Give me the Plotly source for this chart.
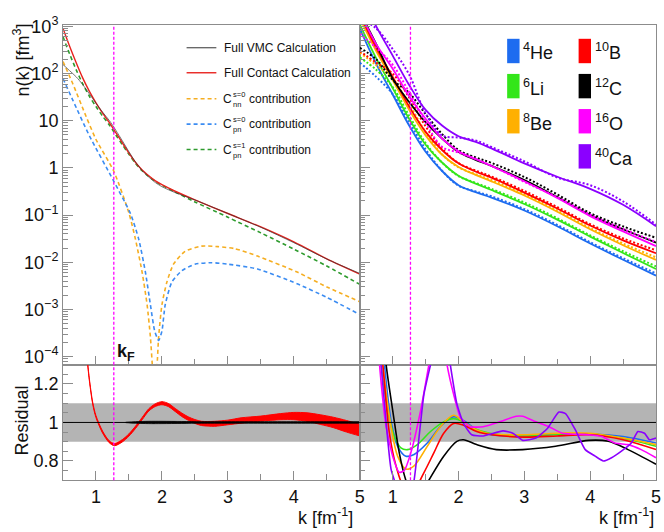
import plotly.graph_objects as go

W, H = 664, 532
FONT = "Liberation Sans, Arial, Helvetica, sans-serif"
FRAME = "#8c8c8c"

# ---------------- data ----------------
KF = 1.27

# left top panel
k_left = [0.5, 0.6, 0.7, 0.8, 0.9, 1.0, 1.1, 1.2, 1.3, 1.4, 1.5, 1.6, 1.7, 1.8, 1.9, 2.0, 2.2, 2.5, 3.0, 3.5, 4.0, 4.5, 5.0]
contact_left = [900, 380, 170, 80, 42, 24, 14.5, 9.2, 5.6, 3.4, 2.05, 1.3, 0.9, 0.68, 0.53, 0.44, 0.32, 0.21, 0.108, 0.056, 0.027, 0.0118, 0.0056]
vmc_left = [155, 115, 85, 58, 37, 23.5, 15.2, 10.2, 6.3, 3.75, 2.2, 1.33, 0.88, 0.64, 0.49, 0.40, 0.30, 0.209, 0.108, 0.055, 0.026, 0.0117, 0.0058]
pn1_left = [600, 260, 120, 60, 33, 20, 12.5, 8.2, 5.0, 3.1, 1.95, 1.25, 0.87, 0.66, 0.52, 0.43, 0.31, 0.19, 0.09, 0.042, 0.019, 0.0083, 0.0034]

k_nn0 = [0.5, 0.65, 0.85, 1.0, 1.27, 1.5, 1.6, 1.7, 1.775, 1.825, 1.86, 1.89, 1.925, 1.95, 2.0, 2.075, 2.175, 2.35, 2.6, 2.85, 3.1, 3.45, 4.05, 4.5, 5.0]
nn0_left = [180, 60, 12.3, 4.0, 0.85, 0.11, 0.030, 0.0061, 0.00126, 2.6e-4, 5e-5, 1.5e-5, 6e-5, 2.6e-4, 1.26e-3, 3.8e-3, 9.1e-3, 0.017, 0.022, 0.0214, 0.0195, 0.0135, 0.0062, 0.003, 0.00146]

k_pn0 = [0.5, 0.65, 0.9, 1.27, 1.525, 1.65, 1.75, 1.825, 1.89, 1.95, 2.0, 2.05, 2.15, 2.3, 2.5, 2.75, 3.0, 3.45, 4.05, 4.5, 5.0]
pn0_left = [78, 27, 4.8, 0.52, 0.106, 0.030, 0.0061, 0.00126, 3.5e-4, 2.2e-4, 3.5e-4, 1.26e-3, 3.8e-3, 6.6e-3, 9.1e-3, 0.0098, 0.0091, 0.0072, 0.0035, 0.0018, 7.8e-4]

# left residual panel
k_res_left = [0.85, 0.875, 0.9, 0.95, 1.0, 1.1, 1.2, 1.28, 1.4, 1.5, 1.6, 1.7, 1.8, 1.9, 2.0, 2.1, 2.2, 2.3, 2.4, 2.5, 2.6, 2.7, 2.8, 3.0, 3.2, 3.5, 3.8, 4.0, 4.2, 4.4, 4.6, 4.8, 5.0]
res_contact_upper = [1.405, 1.305, 1.225, 1.105, 1.035, 0.955, 0.905, 0.891, 0.911, 0.941, 0.981, 1.026, 1.071, 1.097, 1.108, 1.098, 1.073, 1.049, 1.029, 1.015, 1.006, 1.005, 1.006, 1.012, 1.024, 1.033, 1.046, 1.052, 1.05, 1.04, 1.027, 1.01, 0.99]
res_contact_lower = [1.395, 1.295, 1.215, 1.095, 1.025, 0.945, 0.895, 0.879, 0.899, 0.929, 0.969, 1.014, 1.059, 1.083, 1.092, 1.082, 1.057, 1.031, 1.011, 0.995, 0.984, 0.981, 0.98, 0.988, 0.996, 1.007, 1.014, 1.014, 1.006, 0.99, 0.973, 0.95, 0.93]
k_res_vmc = [1.45, 1.6, 1.8, 2.0, 2.3, 2.6, 3.0, 3.5, 4.0, 4.5, 5.0]
res_vmc_upper = [1.001, 1.004, 1.006, 1.006, 1.005, 1.004, 1.004, 1.004, 1.004, 1.004, 1.004]
res_vmc_lower = [0.999, 0.996, 0.994, 0.994, 0.995, 0.996, 0.996, 0.996, 0.996, 0.996, 0.996]

# right top panel (contact = solid, VMC = dotted)
k_right = [0.5, 0.75, 1.0, 1.25, 1.5, 1.75, 2.0, 2.25, 2.5, 3.0, 3.5, 4.0, 4.5, 5.0]
he4_contact = [900, 160, 36, 7.9, 2.2, 0.86, 0.43, 0.31, 0.235, 0.125, 0.058, 0.025, 0.0113, 0.0052]
he4_vmc = [170, 85, 36.7, 9.6, 2.49, 0.87, 0.42, 0.32, 0.251, 0.134, 0.062, 0.0266, 0.0122, 0.0058]
li6_contact = [1100, 210, 49, 11, 3.1, 1.3, 0.68, 0.47, 0.34, 0.172, 0.08, 0.035, 0.0157, 0.0072]
li6_vmc = [220, 120, 51.6, 12.8, 3.35, 1.3, 0.67, 0.487, 0.36, 0.185, 0.0855, 0.0372, 0.0171, 0.0082]
be8_contact = [1500, 300, 73, 17, 4.9, 1.9, 1.05, 0.72, 0.52, 0.26, 0.118, 0.05, 0.023, 0.0112]
be8_vmc = [280, 150, 77.7, 22.4, 5.7, 1.93, 1.03, 0.746, 0.553, 0.278, 0.125, 0.053, 0.025, 0.0127]
b10_contact = [1800, 350, 85, 20, 5.8, 2.4, 1.25, 0.85, 0.62, 0.3, 0.138, 0.06, 0.029, 0.0155]
b10_vmc = [300, 170, 100, 31, 7.6, 2.58, 1.26, 0.89, 0.66, 0.325, 0.148, 0.064, 0.032, 0.018]
c12_contact = [2000, 420, 78, 25, 9.3, 4.2, 2.17, 1.5, 1.1, 0.55, 0.24, 0.1, 0.05, 0.026]
c12_vmc = [350, 200, 73, 39, 13.8, 5.2, 2.4, 1.69, 1.28, 0.64, 0.274, 0.11, 0.0575, 0.033]
o16_contact = [2000, 420, 126, 33, 11, 4.2, 2.24, 1.55, 1.1, 0.52, 0.23, 0.095, 0.045, 0.022]
o16_vmc = [700, 350, 153, 40, 9.2, 2.8, 2.11, 1.58, 1.11, 0.505, 0.24, 0.102, 0.0507, 0.027]
ca40_contact = [5000, 1000, 240, 57, 17, 7.9, 4.7, 3.6, 2.6, 1.25, 0.65, 0.36, 0.165, 0.058]
ca40_vmc = [1500, 900, 329, 95, 14.2, 4.9, 4.4, 3.85, 2.77, 1.38, 0.625, 0.43, 0.194, 0.063]

# right residual panel
k_res_he4 = [0.75, 0.875, 0.975, 1.075, 1.2, 1.325, 1.525, 1.725, 1.925, 2.1, 2.275, 2.5, 3.0, 3.5, 4.0, 4.5, 5.0]
res_he4 = [1.8, 1.3, 1.01, 0.876, 0.825, 0.834, 0.893, 0.978, 1.03, 1.005, 0.961, 0.936, 0.93, 0.94, 0.94, 0.927, 0.893]
k_res_li6 = [0.72, 0.825, 0.925, 1.025, 1.125, 1.225, 1.375, 1.575, 1.775, 1.925, 2.075, 2.225, 2.475, 2.975, 3.475, 3.975, 4.475, 5.0]
res_li6 = [1.8, 1.3, 1.063, 0.927, 0.868, 0.859, 0.885, 0.953, 1.003, 1.02, 1.003, 0.97, 0.944, 0.93, 0.936, 0.941, 0.919, 0.876]
k_res_be8 = [0.72, 0.85, 0.975, 1.075, 1.2, 1.325, 1.525, 1.725, 1.925, 2.075, 2.275, 2.5, 3.0, 3.5, 4.0, 4.5, 5.0]
res_be8 = [1.8, 1.3, 0.978, 0.825, 0.758, 0.775, 0.876, 0.978, 1.037, 1.003, 0.961, 0.94, 0.936, 0.944, 0.944, 0.919, 0.885]
k_res_b10 = [0.7, 0.85, 0.95, 1.05, 1.175, 1.3, 1.475, 1.625, 1.775, 1.925, 2.075, 2.275, 2.5, 3.0, 3.5, 4.0, 4.5, 5.0]
res_b10 = [1.8, 1.3, 0.944, 0.775, 0.66, 0.64, 0.74, 0.842, 0.944, 0.995, 0.986, 0.953, 0.936, 0.924, 0.93, 0.936, 0.91, 0.859]
k_res_c12 = [0.75, 0.9, 1.0, 1.1, 1.2, 1.35, 1.55, 1.775, 1.975, 2.075, 2.275, 2.575, 2.975, 3.475, 3.975, 4.275, 4.575, 5.0]
res_c12 = [1.8, 1.3, 1.063, 0.842, 0.70, 0.58, 0.70, 0.825, 0.902, 0.91, 0.885, 0.859, 0.859, 0.876, 0.907, 0.902, 0.859, 0.783]
k_res_o16 = [0.7, 0.8, 0.9, 1.0, 1.1, 1.175, 1.275, 1.425, 1.55, 1.7, 1.825, 1.925, 2.025, 2.175, 2.375, 2.625, 2.875, 2.975, 3.175, 3.375, 3.575, 3.975, 4.175, 4.375, 4.575, 4.775, 5.0]
res_o16 = [1.8, 1.3, 0.978, 0.825, 0.741, 0.75, 0.842, 1.063, 1.3, 1.6, 1.3, 1.147, 1.029, 0.978, 0.978, 1.003, 1.032, 1.032, 1.003, 0.978, 0.944, 0.936, 0.927, 0.893, 0.885, 0.859, 0.817]
k_res_ca40 = [0.72, 0.825, 0.975, 1.025, 1.1, 1.25, 1.325, 1.475, 1.575, 1.75, 1.875, 1.975, 2.075, 2.2, 2.375, 2.675, 2.825, 2.975, 3.175, 3.35, 3.525, 3.625, 3.775, 3.925, 4.075, 4.2, 4.325, 4.475, 4.625, 4.725, 4.825, 4.9, 5.0]
res_ca40 = [1.8, 1.3, 0.758, 0.70, 0.6, 0.6, 0.70, 1.147, 1.3, 1.6, 1.3, 1.097, 0.995, 0.936, 0.93, 0.956, 0.944, 0.907, 0.919, 0.969, 1.054, 1.046, 0.961, 0.859, 0.825, 0.80, 0.817, 0.851, 0.893, 0.953, 0.944, 0.91, 0.919]

nuclei = ["<sup>4</sup>He", "<sup>6</sup>Li", "<sup>8</sup>Be", "<sup>10</sup>B", "<sup>12</sup>C", "<sup>16</sup>O", "<sup>40</sup>Ca"]
nuc_colors = ["#1e6cf0", "#33e61a", "#ffb000", "#ff0000", "#000000", "#ff00ff", "#8b00ff"]
nuc_contact = [he4_contact, li6_contact, be8_contact, b10_contact, c12_contact, o16_contact, ca40_contact]
nuc_vmc = [he4_vmc, li6_vmc, be8_vmc, b10_vmc, c12_vmc, o16_vmc, ca40_vmc]
nuc_res_k = [k_res_he4, k_res_li6, k_res_be8, k_res_b10, k_res_c12, k_res_o16, k_res_ca40]
nuc_res = [res_he4, res_li6, res_be8, res_b10, res_c12, res_o16, res_ca40]

legend_left = ["Full VMC Calculation", "Full Contact Calculation", "nn", "pn", "pn"]
legend_left_sup = [None, None, "s=0", "s=0", "s=1"]

y_tickvals = [1e-4, 1e-3, 1e-2, 1e-1, 1, 10, 1e2, 1e3]
y_ticktext = ["10<sup>\u22124</sup>", "10<sup>\u22123</sup>", "10<sup>\u22122</sup>", "10<sup>\u22121</sup>",
              "1", "10", "10<sup>2</sup>", "10<sup>3</sup>"]
y_minor = [m * d for d in [1e-5, 1e-4, 1e-3, 1e-2, 1e-1, 1, 10, 100] for m in range(2, 10)]
res_tickvals = [0.8, 1.0, 1.2]
res_ticktext = ["0.8", "1", "1.2"]
x_tickvals = [1, 2, 3, 4, 5]
x_ticktext = ["1", "2", "3", "4", "5"]

C_VMC = "#333333"
C_CONTACT = "#e8231f"
C_NN = "#f5ae22"
C_PN0 = "#3b8cf2"
C_PN1 = "#2e9b2e"
C_KF = "#ff00ff"

# ---------------- figure ----------------
def px(x):
    return x / W


def py(y):
    return 1 - y / H


fig = go.Figure()

# top-left
fig.add_trace(go.Scatter(x=k_left, y=pn1_left, mode="lines", xaxis="x", yaxis="y",
                         line=dict(color=C_PN1, width=1.6, dash="4px,3px", shape="spline", smoothing=0.8)))
fig.add_trace(go.Scatter(x=k_nn0, y=nn0_left, mode="lines", xaxis="x", yaxis="y",
                         line=dict(color=C_NN, width=1.6, dash="4px,3px", shape="spline", smoothing=0.6)))
fig.add_trace(go.Scatter(x=k_pn0, y=pn0_left, mode="lines", xaxis="x", yaxis="y",
                         line=dict(color=C_PN0, width=1.6, dash="4px,3px", shape="spline", smoothing=0.6)))
fig.add_trace(go.Scatter(x=k_left, y=contact_left, mode="lines", xaxis="x", yaxis="y",
                         line=dict(color=C_CONTACT, width=1.4, shape="spline", smoothing=0.8)))
fig.add_trace(go.Scatter(x=k_left, y=vmc_left, mode="lines", xaxis="x", yaxis="y",
                         line=dict(color=C_VMC, width=0.9, shape="spline", smoothing=0.8), opacity=0.75))

# top-right
for cont, vmc, col in zip(nuc_contact, nuc_vmc, nuc_colors):
    fig.add_trace(go.Scatter(x=k_right, y=vmc, mode="lines", xaxis="x2", yaxis="y2",
                             line=dict(color=col, width=2, dash="2px,2px", shape="spline", smoothing=1.0)))
    fig.add_trace(go.Scatter(x=k_right, y=cont, mode="lines", xaxis="x2", yaxis="y2",
                             line=dict(color=col, width=1.8, shape="spline", smoothing=1.0)))

# bottom-left residual bands
fig.add_trace(go.Scatter(x=k_res_left, y=res_contact_upper, mode="lines", xaxis="x3", yaxis="y3",
                         line=dict(color="#ff0000", width=1, shape="spline", smoothing=0.8)))
fig.add_trace(go.Scatter(x=k_res_left, y=res_contact_lower, mode="lines", xaxis="x3", yaxis="y3",
                         line=dict(color="#ff0000", width=1, shape="spline", smoothing=0.8),
                         fill="tonexty", fillcolor="#ff0000"))
fig.add_trace(go.Scatter(x=k_res_vmc, y=res_vmc_upper, mode="lines", xaxis="x3", yaxis="y3",
                         line=dict(color="#000000", width=0.8, shape="spline", smoothing=0.8)))
fig.add_trace(go.Scatter(x=k_res_vmc, y=res_vmc_lower, mode="lines", xaxis="x3", yaxis="y3",
                         line=dict(color="#000000", width=0.8, shape="spline", smoothing=0.8),
                         fill="tonexty", fillcolor="#000000"))

# bottom-right residuals
for kk, rr, col, name in zip(nuc_res_k, nuc_res, nuc_colors, nuclei):
    jagged = name in ("<sup>16</sup>O", "<sup>40</sup>Ca")
    fig.add_trace(go.Scatter(x=kk, y=rr, mode="lines", xaxis="x4", yaxis="y4",
                             line=dict(color=col, width=1.6, shape="spline",
                                       smoothing=0.5 if jagged else 0.9)))

for tr in fig.data:
    tr.showlegend = False
    tr.hoverinfo = "skip"

axis_common = dict(showline=True, mirror=True, linecolor=FRAME, linewidth=1, ticks="inside",
                   tickcolor=FRAME, zeroline=False, showgrid=False,
                   tickfont=dict(family=FONT, size=18, color="#111111"))

x_dom_l = [px(63.5), px(362.5)]
x_dom_r = [px(362.5), px(661)]
y_dom_t = [py(362.5), py(14.3)]
y_dom_b = [py(481), py(362.5)]

xcommon = dict(axis_common, range=[0.5, 5.0], tickvals=x_tickvals, ticktext=x_ticktext, ticklen=9,
               minor=dict(dtick=0.5, tick0=0.5, ticks="inside", ticklen=6, tickcolor=FRAME))

fig.update_layout(
    width=W, height=H,
    margin=dict(l=0, r=0, t=0, b=0),
    paper_bgcolor="white", plot_bgcolor="white",
    font=dict(family=FONT, size=18, color="#111111"),
    showlegend=False,
    xaxis=dict(xcommon, domain=x_dom_l, anchor="y", showticklabels=False),
    xaxis2=dict(xcommon, domain=x_dom_r, anchor="y2", showticklabels=False),
    xaxis3=dict(xcommon, domain=x_dom_l, anchor="y3", showticklabels=True),
    xaxis4=dict(xcommon, domain=x_dom_r, anchor="y4", showticklabels=True),
    yaxis=dict(axis_common, domain=y_dom_t, anchor="x", type="log", range=[-4.17, 3.03],
               tickvals=y_tickvals, ticktext=y_ticktext, ticklen=10,
               minor=dict(tickvals=y_minor, ticks="inside", ticklen=5, tickcolor=FRAME)),
    yaxis2=dict(axis_common, domain=y_dom_t, anchor="x2", type="log", range=[-4.17, 3.03],
                tickvals=y_tickvals, showticklabels=False, ticklen=10,
                minor=dict(tickvals=y_minor, ticks="inside", ticklen=5, tickcolor=FRAME)),
    yaxis3=dict(axis_common, domain=y_dom_b, anchor="x3", range=[0.7, 1.3],
                tickvals=res_tickvals, ticktext=res_ticktext, ticklen=10,
                minor=dict(dtick=0.05, tick0=0.7, ticks="inside", ticklen=5, tickcolor=FRAME)),
    yaxis4=dict(axis_common, domain=y_dom_b, anchor="x4", range=[0.7, 1.3],
                tickvals=res_tickvals, showticklabels=False, ticklen=10,
                minor=dict(dtick=0.05, tick0=0.7, ticks="inside", ticklen=5, tickcolor=FRAME)),
)

shapes = []
# grey +-10% band and unity line in residual panels
for xr, yr in (("x3", "y3"), ("x4", "y4")):
    shapes.append(dict(type="rect", xref=xr + " domain", yref=yr, x0=0, x1=1, y0=0.9, y1=1.1,
                       fillcolor="#b4b4b4", line=dict(width=0), layer="below"))
    shapes.append(dict(type="line", xref=xr + " domain", yref=yr, x0=0, x1=1, y0=1, y1=1,
                       line=dict(color="#000000", width=1), layer="above"))
# k_F lines
for xr, yr in (("x", "y"), ("x2", "y2"), ("x3", "y3"), ("x4", "y4")):
    shapes.append(dict(type="line", xref=xr, yref=yr + " domain", x0=KF, x1=KF, y0=0, y1=1,
                       line=dict(color=C_KF, width=1.3, dash="3px,2px"), layer="above"))

annotations = []
# left legend
leg_rows = [37.7, 63.3, 90, 116, 142]
leg_styles = [(C_VMC, "solid", 1), (C_CONTACT, "solid", 1.4), (C_NN, "4px,3px", 1.6),
              (C_PN0, "4px,3px", 1.6), (C_PN1, "4px,3px", 1.6)]
for row, (col, dash, wid), label, sup in zip(leg_rows, leg_styles, legend_left, legend_left_sup):
    shapes.append(dict(type="line", xref="paper", yref="paper", x0=px(188), x1=px(218),
                       y0=py(row), y1=py(row), line=dict(color=col, width=wid, dash=dash)))
    if sup is None:
        annotations.append(dict(text=label, x=px(224), y=py(row), xref="paper", yref="paper",
                                xanchor="left", yanchor="middle", showarrow=False,
                                font=dict(size=12, family=FONT, color="#111111")))
    else:
        annotations.append(dict(text="C", x=px(223.5), y=py(row), xref="paper", yref="paper",
                                xanchor="left", yanchor="middle", showarrow=False, borderpad=0,
                                font=dict(size=12, family=FONT, color="#111111")))
        annotations.append(dict(text=sup + "<br>" + label, x=px(233.5), y=py(row + 0.5),
                                xref="paper", yref="paper", align="left",
                                xanchor="left", yanchor="middle", showarrow=False, borderpad=0,
                                font=dict(size=7.5, family=FONT, color="#111111")))
        annotations.append(dict(text="contribution", x=px(250), y=py(row), xref="paper", yref="paper",
                                xanchor="left", yanchor="middle", showarrow=False, borderpad=0,
                                font=dict(size=12, family=FONT, color="#111111")))

# right legend
box_cols = [511, 511, 511, 583, 583, 583, 583]
box_rows = [41, 77, 113, 41, 77, 113, 149]
for bx, by, col, name in zip(box_cols, box_rows, nuc_colors, nuclei):
    shapes.append(dict(type="rect", xref="paper", yref="paper", x0=px(bx), x1=px(bx + 12.5),
                       y0=py(by + 12.5), y1=py(by - 12.5), fillcolor=col, line=dict(width=0)))
    annotations.append(dict(text=name, x=px(bx + 14), y=py(by + 1), xref="paper", yref="paper",
                            xanchor="left", yanchor="middle", showarrow=False,
                            font=dict(size=18, family=FONT, color="#111111")))

# axis titles and labels
annotations += [
    dict(text="n(k) [fm<sup>3</sup>]", x=px(22), y=py(50), xref="paper", yref="paper",
         textangle=-90, showarrow=False, xanchor="center", yanchor="middle",
         font=dict(size=18, family=FONT, color="#111111")),
    dict(text="Residual", x=px(22), y=py(420), xref="paper", yref="paper",
         textangle=-90, showarrow=False, xanchor="center", yanchor="middle",
         font=dict(size=18, family=FONT, color="#111111")),
    dict(text="k [fm<sup>-1</sup>]", x=px(358), y=py(518), xref="paper", yref="paper",
         showarrow=False, xanchor="right", yanchor="middle",
         font=dict(size=18, family=FONT, color="#111111")),
    dict(text="k [fm<sup>-1</sup>]", x=px(661), y=py(518), xref="paper", yref="paper",
         showarrow=False, xanchor="right", yanchor="middle",
         font=dict(size=18, family=FONT, color="#111111")),
    dict(text="<b>k</b><sub><b>F</b></sub>", x=px(116), y=py(350), xref="paper", yref="paper",
         showarrow=False, xanchor="left", yanchor="middle",
         font=dict(size=18, family=FONT, color="#111111")),
]

fig.update_layout(shapes=shapes, annotations=annotations)
fig.write_html("out.html", config={"displayModeBar": False},
               post_script="document.body.style.margin='0px';document.body.style.overflow='hidden';")
